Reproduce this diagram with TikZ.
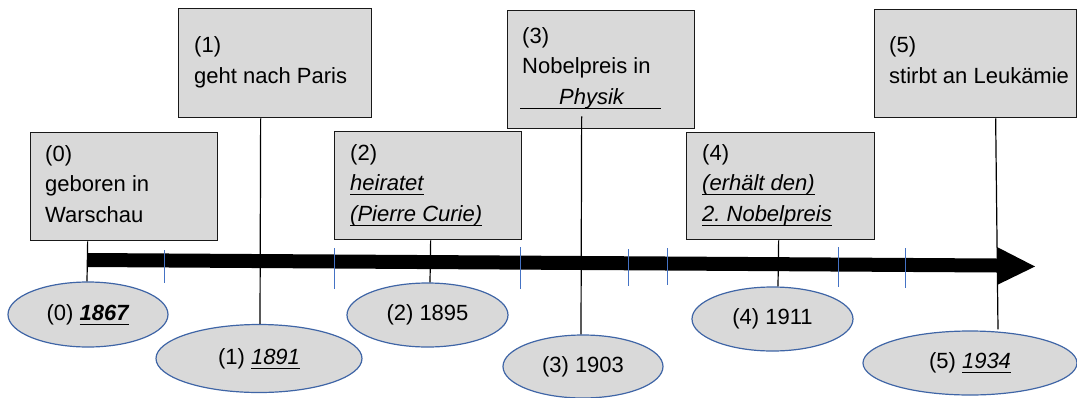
\documentclass[tikz,border=0pt]{standalone}
\usepackage{fontspec}
\setmainfont{Liberation Sans}
\usetikzlibrary{shapes.geometric,calc}
\definecolor{boxgray}{HTML}{D9D9D9}
\definecolor{ellgray}{HTML}{D9D9D9}
\definecolor{ellblue}{HTML}{3F65A6}
\definecolor{tickblue}{HTML}{4472C4}
\frenchspacing
\newcommand\myul[1]{\setbox0=\hbox{#1}\rlap{\rule[-4.5pt]{\wd0}{1pt}}\box0}
\tikzset{
  evbox/.style={draw=black!90, line width=1.3pt, fill=boxgray, inner sep=0pt, anchor=north west},
  evtext/.style={anchor=base west, align=left, inner sep=0pt, font=\fontsize{22}{30.5}\selectfont},
  yearell/.style={ellipse, draw=ellblue, line width=1.2pt, fill=ellgray, inner sep=0pt, font=\fontsize{22}{26}\selectfont},
  conn/.style={draw=black, line width=1.2pt},
  tick/.style={draw=tickblue, line width=1pt}
}
\begin{document}
\begin{tikzpicture}[x=1pt,y=-1pt]
\useasboundingbox (0,0) rectangle (1077,397);
% boxes
\node[evbox, minimum width=187, minimum height=108] (b0) at (30,132) {};
\node[evbox, minimum width=193, minimum height=109] (b1) at (178,8) {};
\node[evbox, minimum width=187, minimum height=108] (b2) at (334,131) {};
\node[evbox, minimum width=187, minimum height=118] (b3) at (507,10) {};
\node[evbox, minimum width=188, minimum height=107] (b4) at (686,132) {};
\node[evbox, minimum width=202, minimum height=108] (b5) at (874,9) {};
% box texts (anchor = baseline of last line)
\node[evtext] (t0) at (45,222) {(0)\\geboren in\\Warschau};
\node[evtext] (t1) at (194,83) {(1)\\geht nach Paris};
\node[evtext] (t2) at (350,221) {(2)\\\myul{\textit{heiratet}}\\\myul{\textit{(Pierre Curie)}}};
\node[evtext] (t3) at (522,104) {(3)\\Nobelpreis in\\\hspace*{-2pt}\myul{\hspace*{39pt}\textit{Physik}\hspace*{36pt}}};
\node[evtext] (t4) at (702,221) {(4)\\\myul{\textit{(erhält den)}}\\\myul{\textit{2. Nobelpreis}}};
\node[evtext] (t5) at (889,83) {(5)\\stirbt an Leukämie};
% ellipses
\node[yearell, minimum width=160, minimum height=65] (e0) at (88,314.5) {(0) \myul{\textbf{\textit{1867}}}};
\node[yearell, minimum width=206, minimum height=68] (e1) at (259,358.5) {(1) \myul{\textit{1891}}};
\node[yearell, minimum width=161, minimum height=64] (e2) at (427.5,315) {(2) 1895};
\node[yearell, minimum width=160, minimum height=63] (e3) at (583,366.5) {(3) 1903};
\node[yearell, minimum width=161, minimum height=64] (e4) at (772.5,319) {(4) 1911};
\node[yearell, minimum width=214, minimum height=64] (e5) at (970,363) {(5) \myul{\textit{1934}}};
% connectors
\draw[conn] ([xshift=-36.5]b0.south) -- ([xshift=-1]e0.north);
\draw[conn] ([xshift=-14.5]b1.south) -- ([xshift=1]e1.north);
\draw[conn] ([xshift=2.5]b2.south) -- ([xshift=2.5]e2.north);
\draw[conn] ([xshift=-19.5,yshift=13]b3.south) -- ([xshift=-2]e3.north);
\draw[conn] ([xshift=-2]b4.south) -- ([xshift=5.5]e4.north);
\draw[conn] ([xshift=20]b5.south) -- ([xshift=28,yshift=1]e5.north);
% time arrow
\fill[black] (87,253) -- (997,258.5) -- (997,247) -- (1035,266.5) -- (997,285) -- (997,272.5) -- (87,267) -- cycle;
% ticks
\foreach \x/\a/\b in {164/250/283, 334/248/289, 520/247/289, 628/249/286, 667/248/285, 838/247/287, 905/248/288}
  \draw[tick] (\x,\a) -- (\x,\b);
\end{tikzpicture}
\end{document}
